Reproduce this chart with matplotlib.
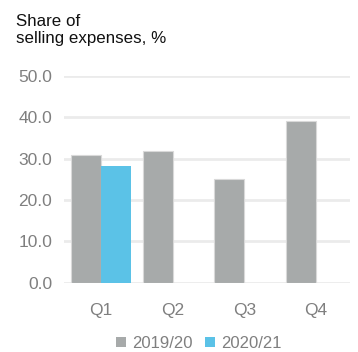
import matplotlib
matplotlib.use("Agg")
import matplotlib.pyplot as plt
import numpy as np
from matplotlib.patches import Patch

quarters = ["Q1", "Q2", "Q3", "Q4"]
fy1920 = [31.0, 31.9, 25.2, 39.2]
fy2021 = [28.2]
series_labels = ["2019/20", "2020/21"]
yticks = [0, 10, 20, 30, 40, 50]

grey = "#a7aaaa"
blue = "#5bc2e7"
tick_col = "#7f7f7f"

plt.rcParams["font.family"] = ["Liberation Sans", "DejaVu Sans"]

fig = plt.figure(figsize=(3.58, 3.52), dpi=100)
ax = fig.add_axes([0.179, 0.197, 0.799, 0.587])

x = np.arange(len(quarters))
w = 0.42
ax.bar(x - w / 2, fy1920, width=w, color=grey, edgecolor="#d9d9d9", linewidth=0.8, zorder=3)
ax.bar(x[:len(fy2021)] + w / 2, fy2021, width=w, color=blue, edgecolor="none", zorder=3)

ax.set_ylim(0, 50)
ax.set_xlim(-0.517, 3.48)
ax.set_yticks(yticks)
ax.set_yticklabels([f"{v:.1f}" for v in yticks])
ax.set_xticks(x)
ax.set_xticklabels(quarters)
ax.yaxis.grid(True, color="#ebebeb", linewidth=2, zorder=0)
ax.set_axisbelow(True)
for s in ax.spines.values():
    s.set_visible(False)
ax.tick_params(axis="both", length=0, colors=tick_col, labelsize=12.5)
ax.tick_params(axis="y", pad=8.5)
ax.tick_params(axis="x", pad=15)
for lbl in ax.get_xticklabels() + ax.get_yticklabels():
    lbl.set_color(tick_col)

fig.text(0.045, 0.96, "Share of\nselling expenses, %", ha="left", va="top",
         fontsize=12.2, color="#111111", linespacing=1.2)

handles = [Patch(facecolor=grey, edgecolor="none"), Patch(facecolor=blue, edgecolor="none")]
leg = fig.legend(handles, series_labels, loc="center", bbox_to_anchor=(0.555, 0.025),
                 ncol=2, frameon=False, fontsize=12, handlelength=0.6, handleheight=0.6,
                 handletextpad=0.35, columnspacing=0.75, borderaxespad=0)
for t in leg.get_texts():
    t.set_color(tick_col)

fig.savefig("out.png", dpi=100)
